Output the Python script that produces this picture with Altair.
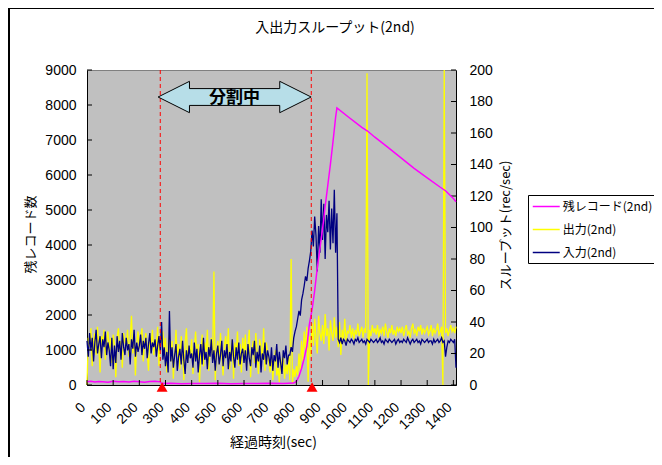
import altair as alt
import pandas as pd

TITLE = "入出力スループット(2nd)"
X_TITLE = "経過時刻(sec)"
Y_LEFT_TITLE = "残レコード数"
Y_RIGHT_TITLE = "スループット(rec/sec)"
SPLIT_LABEL = "分割中"

names = ["残レコード(2nd)", "出力(2nd)", "入力(2nd)"]
colors = ["#FF00FF", "#FFFF00", "#000080"]

# remaining records (left axis)
rem_t = [0, 15, 30, 45, 60, 80, 100, 120, 140, 160,
         180, 200, 220, 240, 260, 280, 285, 320, 360, 400,
         450, 500, 550, 600, 650, 700, 750, 790, 800, 810,
         820, 830, 840, 850, 860, 870, 880, 890, 900, 910,
         920, 930, 940, 950, 955, 1000, 1050, 1072, 1100, 1150,
         1200, 1250, 1300, 1350, 1371, 1400, 1410]
rem_v = [90, 110, 85, 100, 95, 80, 105, 90, 100, 85,
         110, 95, 80, 100, 105, 90, 40, 50, 35, 45,
         40, 50, 35, 45, 40, 50, 45, 55, 100, 250,
         480, 760, 1100, 1750, 2150, 2700, 3350, 3900, 4450, 5100,
         5700, 6300, 6950, 7650, 7920, 7650, 7360, 7257, 7080, 6790,
         6490, 6190, 5920, 5650, 5543, 5330, 5237]

# throughput series (right axis), one reading every 5 sec
sample_step = 5
out_v = [0, 30, 24, 36, 12, 28, 33, 19, 37, 25, 8, 31, 27, 35, 16, 29, 34, 21, 30, 14,
         32, 26, 5, 30, 36, 22, 28, 11, 33, 27, 24, 35, 18, 29, 44, 20, 31, 6, 27, 34,
         23, 30, 36, 15, 28, 33, 21, 9, 31, 26, 35, 19, 29, 24, 37, 12, 30, 27, 34, 22,
         30, 8, 24, 33, 15, 28, 4, 21, 35, 18, 26, 10, 31, 22, 3, 27, 36, 14, 25, 19,
         29, 7, 23, 34, 16, 26, 2, 20, 32, 12, 27, 21, 35, 9, 24, 30, 15, 72, 3, 22,
         28, 13, 33, 19, 6, 25, 31, 17, 36, 10, 23, 29, 4, 27, 20, 34, 12, 26, 8, 30,
         18, 32, 11, 25, 35, 5, 22, 28, 14, 33, 20, 7, 29, 24, 16, 36, 9, 27, 21, 13,
         8, 19, 3, 14, 22, 6, 11, 2, 17, 9, 20, 4, 13, 7, 18, 3, 80, 1, 10, 5,
         12, 6, 20, 9, 28, 15, 34, 22, 37, 2, 31, 18, 39, 25, 42, 30, 20, 44, 33, 28,
         38, 26, 45, 31, 36, 22, 41, 33, 28, 43, 30, 37, 24, 40, 19, 35, 29, 42, 27, 34,
         33, 38, 30, 36, 29, 35, 32, 39, 31, 34, 37, 30, 36, 33, 198, 0, 35, 31, 38, 33,
         36, 32, 38, 30, 35, 33, 37, 31, 39, 34, 30, 36, 33, 38, 32, 35, 31, 37, 34, 36,
         33, 37, 31, 35, 38, 32, 34, 30, 36, 39, 33, 35, 31, 37, 34, 38, 32, 36, 33, 35,
         37, 32, 34, 38, 31, 36, 33, 35, 39, 32, 34, 37, 0, 200, 33, 36, 31, 35, 38, 34,
         36, 33, 37]
in_v = [28, 18, 33, 22, 30, 15, 27, 35, 20, 26, 31, 17, 29, 24, 34, 19, 27, 22, 12, 30,
        10, 25, 14, 31, 21, 28, 16, 33, 24, 19, 30, 22, 26, 13, 29, 23, 35, 18, 27, 21,
        25, 32, 19, 28, 23, 30, 17, 26, 33, 20, 27, 24, 29, 18, 25, 31, 22, 40, 16, 24,
        12, 21, 8, 47, 15, 24, 11, 19, 26, 9, 18, 23, 13, 28, 16, 7, 22, 14, 25, 17,
        20, 11, 27, 15, 23, 8, 19, 26, 13, 30, 16, 21, 10, 24, 18, 29, 14, 22, 9, 20,
        25, 13, 19, 28, 12, 22, 17, 26, 10, 21, 15, 29, 18, 11, 24, 16, 27, 13, 20, 23,
        14, 22, 9, 26, 17, 12, 24, 19, 28, 11, 21, 15, 25, 8, 20, 16, 27, 13, 22, 18,
        12, 24, 9, 19, 15, 26, 11, 21, 14, 7, 22, 17, 25, 13, 19, 19, 24, 21, 30, 34,
        37, 42, 47, 44, 54, 58, 63, 69, 66, 74, 79, 85, 98, 88, 107, 95, 72, 101, 84, 118,
        92, 115, 80, 108, 97, 117, 86, 112, 90, 124, 84, 109, 29, 27, 30, 26, 29, 28, 25, 29,
        28, 27, 29, 28, 26, 29, 28, 30, 27, 28, 29, 27, 28, 26, 29, 28, 27, 29, 28, 27,
        28, 29, 27, 28, 30, 27, 28, 26, 29, 28, 27, 29, 28, 27, 28, 29, 26, 28, 29, 27,
        28, 27, 29, 28, 27, 30, 28, 26, 28, 29, 27, 28, 29, 27, 28, 26, 29, 28, 27, 28,
        29, 27, 28, 28, 26, 29, 27, 28, 29, 27, 28, 30, 27, 28, 18, 24, 28, 27, 29, 28,
        27, 29, 11]

x_ticks = [0, 100, 200, 300, 400, 500, 600, 700, 800, 900, 1000, 1100, 1200, 1300, 1400]
left_ticks = [0, 1000, 2000, 3000, 4000, 5000, 6000, 7000, 8000, 9000]
right_ticks = [0, 20, 40, 60, 80, 100, 120, 140, 160, 180, 200]
split_t = [280, 857]
marker_t = [287, 860]
arrow_t = [564]

JP = "Noto Sans CJK JP"
NUM = "Liberation Sans"

df_rem = pd.DataFrame({"t": rem_t, "v": rem_v, "s": names[0]})
df_tp = pd.concat([
    pd.DataFrame({"t": [i * sample_step for i in range(len(out_v))], "v": out_v, "s": names[1]}),
    pd.DataFrame({"t": [i * sample_step for i in range(len(in_v))], "v": in_v, "s": names[2]}),
], ignore_index=True)

xscale = alt.Scale(domain=[0, 1410], nice=False, zero=False)
lscale = alt.Scale(domain=[0, 9000], nice=False, zero=True)
rscale = alt.Scale(domain=[0, 200], nice=False, zero=True)

x_axis = alt.Axis(values=x_ticks, format="d", labelAngle=315, labelAlign="right", labelBaseline="middle",
                  labelPadding=20, labelOffset=-4, ticks=False, grid=False,
                  labelOverlap=False, labelFlush=False, labelFont=NUM, labelFontSize=14,
                  title=X_TITLE, titleFont=JP, titleFontSize=14, titleFontWeight="normal",
                  titleX=186, titleY=57, titleBaseline="middle", titleAlign="center")
left_axis = alt.Axis(orient="left", values=left_ticks, format="d", ticks=False, grid=False,
                     labelPadding=11, labelFont=NUM, labelFontSize=14, labelFlush=False,
                     title=Y_LEFT_TITLE, titleFont=JP, titleFontSize=13, titleFontWeight="normal",
                     titleAngle=270, titleX=-57, titleY=164, titleBaseline="middle", titleAlign="center")
right_axis = alt.Axis(orient="right", values=right_ticks, format="d", ticks=False, grid=False,
                      labelPadding=13, labelFont=NUM, labelFontSize=14, labelFlush=False,
                      title=Y_RIGHT_TITLE, titleFont=JP, titleFontSize=13, titleFontWeight="normal",
                      titleAngle=270, titleX=49, titleY=155, titleBaseline="middle", titleAlign="center")

leg = alt.Legend(title=None, orient="none", legendX=441, legendY=125, direction="vertical",
                 fillColor="white", strokeColor="black", padding=4, cornerRadius=0,
                 symbolType="M-2,0L2,0", symbolSize=182, symbolStrokeWidth=1.5,
                 symbolOffset=6.75, labelOffset=9, labelFont=JP, labelFontSize=12,
                 labelColor="black", rowPadding=9, labelLimit=300)
color = alt.Color("s:N", scale=alt.Scale(domain=names, range=colors), legend=leg)

X = alt.X("t:Q", scale=xscale, axis=x_axis)

tp_lines = alt.Chart(df_tp).mark_line(strokeWidth=1.3).encode(
    x=X, y=alt.Y("v:Q", scale=rscale, axis=right_axis), color=color)
rticks = alt.Chart(pd.DataFrame({"v": right_ticks})).mark_rule(color="black", strokeWidth=1).encode(
    y=alt.Y("v:Q", scale=rscale, axis=right_axis), x=alt.value(364), x2=alt.value(369))
right_layer = alt.layer(tp_lines, rticks)

magenta = alt.Chart(df_rem).mark_line(strokeWidth=1.5).encode(
    x=X, y=alt.Y("v:Q", scale=lscale, axis=left_axis), color=color)
lticks = alt.Chart(pd.DataFrame({"v": left_ticks})).mark_rule(color="black", strokeWidth=1).encode(
    y=alt.Y("v:Q", scale=lscale, axis=left_axis), x=alt.value(0), x2=alt.value(5))
left_layer = alt.layer(magenta, lticks)

xticks = alt.Chart(pd.DataFrame({"t": x_ticks})).mark_rule(color="black", strokeWidth=1).encode(
    x=X, y=alt.value(310), y2=alt.value(315))

splits = alt.Chart(pd.DataFrame({"t": split_t})).mark_rule(
    color="#FF0000", strokeDash=[4, 3], strokeWidth=1).encode(x=X)

markers = alt.Chart(pd.DataFrame({"t": marker_t})).mark_point(
    shape="triangle-up", filled=True, color="#FF0000", size=120, opacity=1).encode(
    x=X, y=alt.value(317))

ARROW = ("M-1,0 L-0.59,-0.205 L-0.59,-0.11 L0.59,-0.11 L0.59,-0.205 L1,0 "
         "L0.59,0.205 L0.59,0.11 L-0.59,0.11 L-0.59,0.205 Z")
arrow = alt.Chart(pd.DataFrame({"t": arrow_t})).mark_point(
    shape=ARROW, filled=True, fill="#B7DEE8", stroke="black", strokeWidth=1,
    size=153 * 153, opacity=1).encode(x=X, y=alt.value(27))
arrow_text = alt.Chart(pd.DataFrame({"t": arrow_t, "label": [SPLIT_LABEL]})).mark_text(
    font=JP, fontSize=17, fontWeight="bold", color="black", align="center", baseline="middle").encode(
    x=X, y=alt.value(28), text="label:N")

title = alt.Chart(pd.DataFrame({"label": [TITLE]})).mark_text(
    font=JP, fontSize=14, color="black", align="center", baseline="middle").encode(
    x=alt.value(248), y=alt.value(-42), text="label:N")

frame_left = alt.Chart(pd.DataFrame({"k": [0]})).mark_rule(color="black", strokeWidth=2).encode(
    x=alt.value(-78), y=alt.value(-62), y2=alt.value(400))
frame_top = alt.Chart(pd.DataFrame({"k": [0]})).mark_rule(color="black", strokeWidth=2).encode(
    x=alt.value(-78), x2=alt.value(600), y=alt.value(-62))

chart = alt.layer(
    right_layer, left_layer, xticks, splits, markers, arrow, arrow_text, title, frame_left, frame_top
).resolve_scale(y="independent").properties(
    width=369, height=315,
    padding={"left": 79, "top": 62, "right": 198, "bottom": 72},
    autosize=alt.AutoSizeParams(type="none"),
    background="white",
).configure_view(
    fill="#C0C0C0", stroke="#808080", strokeWidth=1
).configure_axis(
    domainColor="black", domainWidth=1, labelColor="black", titleColor="black"
)

chart.save("out.html", embed_options={"renderer": "svg", "actions": False})
